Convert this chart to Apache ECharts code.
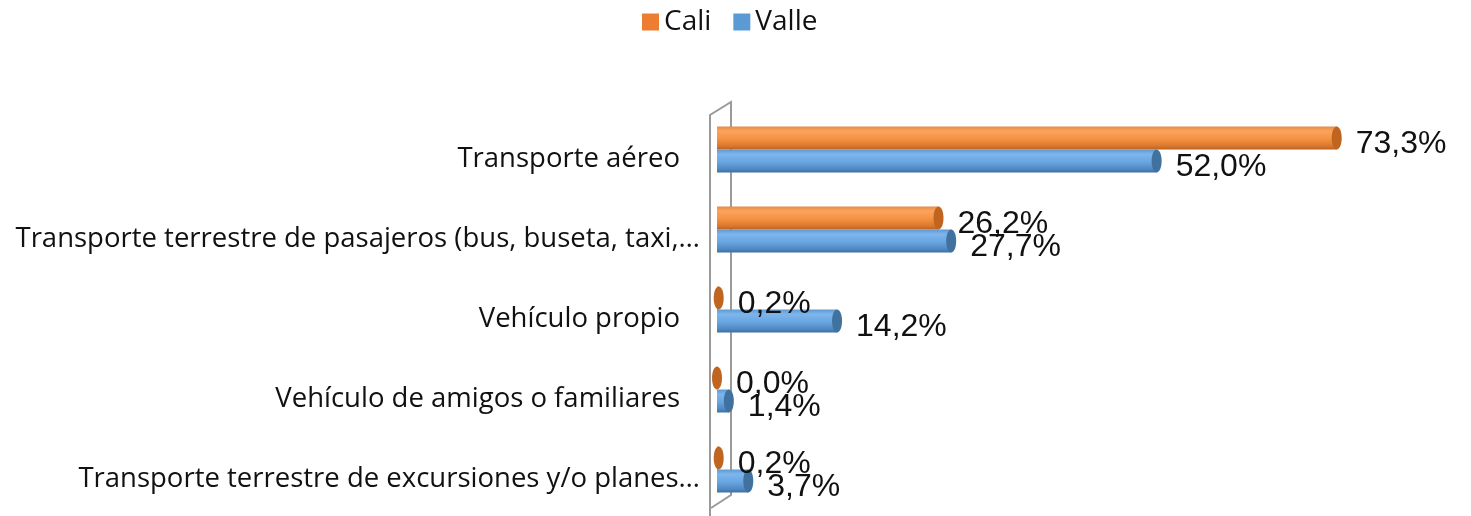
<!DOCTYPE html>
<html>
<head>
<meta charset="utf-8">
<script src="https://cdn.jsdelivr.net/npm/echarts@6/dist/echarts.min.js"></script>
<style>
  html, body { margin: 0; padding: 0; background: #fff; }
  #panel { width: 1471px; height: 516px; }
</style>
</head>
<body>
<div id="panel"></div>
<script>
const categories = [
  'Transporte aéreo',
  'Transporte terrestre de pasajeros (bus, buseta, taxi,…',
  'Vehículo propio',
  'Vehículo de amigos o familiares',
  'Transporte terrestre de excursiones y/o planes…'
];
const cali = [73.3, 26.2, 0.2, 0.0, 0.2];
const valle = [52.0, 27.7, 14.2, 1.4, 3.7];

const fmt = (v) => v.toFixed(1).replace('.', ',') + '%';

// cilindro: degradado vertical + tapa elíptica al final
const makeRender = (stops, capColor, dy) => {
  return function (params, api) {
    const idx = api.value(1);
    const v = api.value(0);
    const start = api.coord([0, idx]);
    const end = api.coord([v, idx]);
    const h = 23;
    const cy = start[1] + dy;
    return {
      type: 'group',
      children: [
        {
          type: 'rect',
          shape: { x: start[0], y: cy - h / 2, width: end[0] - start[0], height: h },
          style: { fill: new echarts.graphic.LinearGradient(0, 0, 0, 1, stops) }
        },
        {
          type: 'ellipse',
          shape: { cx: end[0], cy: cy, rx: 5, ry: h / 2 },
          style: { fill: capColor }
        },
        {
          type: 'text',
          z2: 100,
          style: {
            text: fmt(v),
            x: end[0] + 19,
            y: cy + 6,
            verticalAlign: 'middle',
            font: '32px "Liberation Sans", Arial, sans-serif',
            fill: '#111'
          }
        }
      ]
    };
  };
};

const orangeStops = [
  { offset: 0, color: '#E88A45' },
  { offset: 0.2, color: '#FBA45E' },
  { offset: 0.55, color: '#F49140' },
  { offset: 0.85, color: '#D9782E' },
  { offset: 1, color: '#B8611F' }
];
const blueStops = [
  { offset: 0, color: '#5E98D2' },
  { offset: 0.2, color: '#7DB6EC' },
  { offset: 0.55, color: '#68A5E1' },
  { offset: 0.85, color: '#4F89C3' },
  { offset: 1, color: '#3E6F9F' }
];

const myChart = echarts.init(document.getElementById('panel'));

const option = {
  backgroundColor: '#fff',
  animation: false,
  legend: {
    data: ['Cali', 'Valle'],
    left: 637,
    top: 3,
    icon: 'rect',
    itemWidth: 17,
    itemHeight: 17,
    itemGap: 22,
    textStyle: { fontFamily: 'Open Sans', fontSize: 28, color: '#111' }
  },
  grid: {
    left: 717,
    right: 10,
    top: 109.5,
    bottom: 6.5,
    containLabel: false
  },
  xAxis: {
    type: 'value',
    min: 0,
    max: 88,
    show: false
  },
  yAxis: {
    type: 'category',
    inverse: true,
    data: categories,
    axisLine: { show: false },
    axisTick: { show: false },
    splitLine: { show: false },
    axisLabel: {
      margin: 17,
      formatter: (v) => (v.endsWith('…') ? '{b|' + v + '}' : '{a|' + v + '}'),
      rich: {
        a: { fontFamily: 'Open Sans', fontSize: 27.5, color: '#111', padding: [20, 20, 0, 0] },
        b: { fontFamily: 'Open Sans', fontSize: 27.5, color: '#111', padding: [20, 0, 0, 0] }
      }
    }
  },
  graphic: [
    {
      // pared del eje 3D
      type: 'polyline',
      shape: {
        points: [[710, 516], [710, 115], [731, 102], [731, 495], [711, 508]]
      },
      style: { stroke: '#9a9a9a', lineWidth: 2, fill: null },
      z: 1
    }
  ],
  series: [
    {
      name: 'Cali',
      type: 'custom',
      itemStyle: { color: '#ED7D31' },
      encode: { x: 0, y: 1 },
      data: cali.map((v, i) => [v, i]),
      renderItem: makeRender(orangeStops, '#C0651F', -11.5)
    },
    {
      name: 'Valle',
      type: 'custom',
      itemStyle: { color: '#5B9BD5' },
      encode: { x: 0, y: 1 },
      data: valle.map((v, i) => [v, i]),
      renderItem: makeRender(blueStops, '#41729F', 11.5)
    }
  ]
};

myChart.setOption(option);
</script>
</body>
</html>
